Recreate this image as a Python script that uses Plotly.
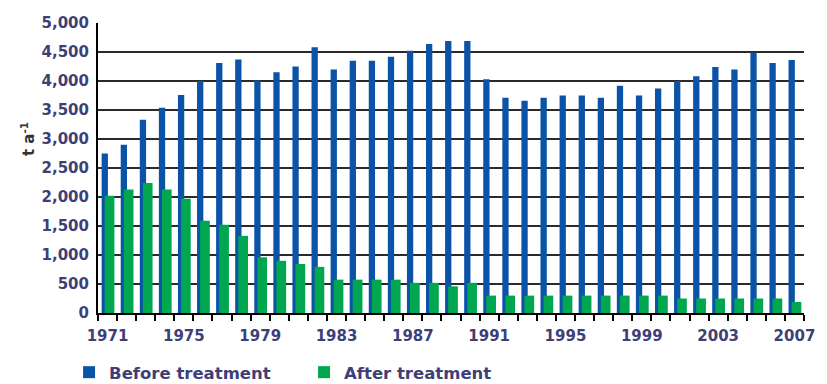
import plotly.graph_objects as go

years = list(range(1971, 2008))
before_treatment = [2750, 2900, 3330, 3540, 3760, 4000, 4310, 4370, 4010, 4150,
                    4250, 4580, 4200, 4350, 4350, 4420, 4520, 4640, 4690, 4690,
                    4030, 3710, 3660, 3710, 3750, 3750, 3710, 3920, 3750, 3870,
                    4000, 4080, 4240, 4200, 4490, 4310, 4360]
after_treatment = [2020, 2130, 2240, 2130, 1970, 1590, 1520, 1330, 960, 900,
                   845, 795, 575, 575, 575, 575, 520, 520, 460, 520,
                   300, 300, 300, 300, 300, 300, 300, 300, 300, 300,
                   250, 250, 250, 250, 250, 250, 190]
label_years = list(range(1971, 2008, 4))
y_ticks = list(range(0, 5001, 500))

BLUE = "#0b53a6"
GREEN = "#00a650"
TXT = "#3f3f78"
FONT = "DejaVu Sans"

fig = go.Figure()
fig.add_trace(go.Bar(x=years, y=before_treatment, name="Before treatment",
                     marker=dict(color=BLUE, line=dict(width=0)),
                     offset=-0.31, width=0.33))
fig.add_trace(go.Bar(x=years, y=after_treatment, name="After treatment",
                     marker=dict(color=GREEN, line=dict(width=0)),
                     offset=-0.15, width=0.51))

fig.update_layout(
    width=827, height=384,
    margin=dict(l=98, r=23, t=23, b=71, autoexpand=False),
    paper_bgcolor="white", plot_bgcolor="white",
    barmode="overlay",
    font=dict(family=FONT, size=15, color=TXT),
    showlegend=True,
    legend=dict(orientation="h", x=-0.041, xanchor="left", y=-0.205, yanchor="middle",
                entrywidth=190, entrywidthmode="pixels", itemwidth=30,
                font=dict(family=FONT, size=16.5, color=TXT, weight="bold"),
                bgcolor="rgba(0,0,0,0)", traceorder="normal"),
    xaxis=dict(range=[1970.5, 2007.5], tickmode="array", tickvals=label_years,
               ticktext=[str(y) for y in label_years], ticks="",
               showgrid=False, zeroline=False,
               showline=True, linecolor="black", linewidth=2,
               ticklabelstandoff=8,
               tickfont=dict(family=FONT, size=15, color=TXT, weight="bold"),
               minor=dict(tickvals=[y - 0.5 for y in years] + [2007.5],
                          ticks="outside", ticklen=6, tickwidth=2, tickcolor="black",
                          showgrid=False)),
    yaxis=dict(range=[0, 5000], tickmode="array", tickvals=y_ticks,
               ticktext=[f"{v:,}" for v in y_ticks], ticks="",
               showgrid=True, gridcolor="#2a2a2a", gridwidth=2,
               zeroline=False, showline=True, linecolor="black", linewidth=2,
               ticklabelstandoff=4,
               tickfont=dict(family=FONT, size=15, color=TXT, weight="bold")),
)

fig.add_annotation(text="t a<sup>-1</sup>", xref="paper", yref="paper",
                   x=-0.116, y=0.60, showarrow=False, textangle=-90,
                   font=dict(family=FONT, size=15, color="#333", weight="bold"))

fig.write_html("out.html", config={"displayModeBar": False},
               post_script="document.body.style.margin='0';document.body.style.overflow='hidden';")
